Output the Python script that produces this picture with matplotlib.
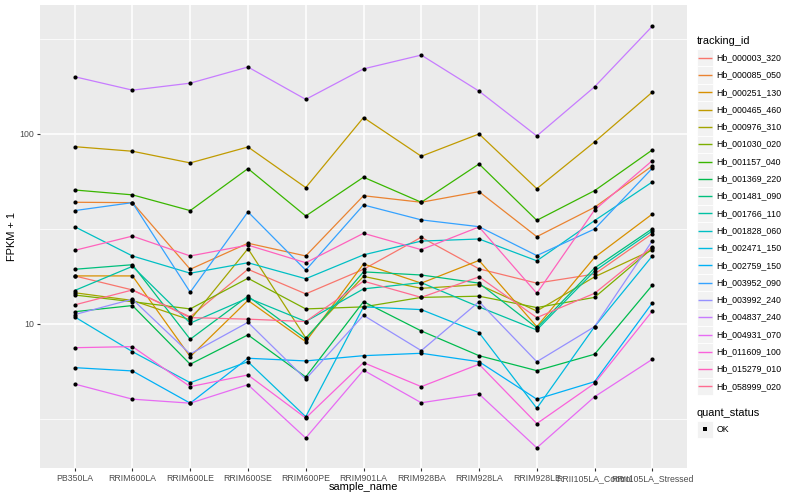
import matplotlib
matplotlib.use("Agg")
import matplotlib.pyplot as plt
from matplotlib.patches import Rectangle
import numpy as np

plt.rcParams['font.family'] = ['Liberation Sans', 'DejaVu Sans']

samples = ["PB350LA", "RRIM600LA", "RRIM600LE", "RRIM600SE", "RRIM600PE", "RRIM901LA",
           "RRIM928BA", "RRIM928LA", "RRIM928LE", "RRII105LA_Control", "RRII105LA_Stressed"]

tracking_ids = ["Hb_000003_320", "Hb_000085_050", "Hb_000251_130", "Hb_000465_460",
                "Hb_000976_310", "Hb_001030_020", "Hb_001157_040", "Hb_001369_220",
                "Hb_001481_090", "Hb_001766_110", "Hb_001828_060", "Hb_002471_150",
                "Hb_002759_150", "Hb_003952_090", "Hb_003992_240", "Hb_004837_240",
                "Hb_004931_070", "Hb_011609_100", "Hb_015279_010", "Hb_058999_020"]

# FPKM + 1 values, one list per tracking_id (order of samples)
hb_000003_320 = [17.9, 15.1, 10.9, 19.4, 14.4, 19.4, 28.6, 19.5, 16.4, 18.3, 29.9]
hb_000085_050 = [43.7, 43.5, 19.4, 26.6, 22.8, 47.3, 43.7, 49.7, 28.8, 41.1, 67.9]
hb_000251_130 = [17.9, 17.9, 6.73, 13.3, 8.07, 20.7, 16.4, 21.6, 9.68, 22.4, 37.9]
hb_000465_460 = [85.7, 81.1, 70.4, 85.4, 52.2, 122, 76.3, 100, 51.5, 90.8, 166]
hb_000976_310 = [14.6, 13.3, 10.5, 24.9, 8.44, 17.8, 15.4, 16.1, 11.7, 17.7, 24.5]
hb_001030_020 = [14.2, 13.1, 12.0, 17.4, 12.0, 12.3, 13.8, 14.0, 12.2, 13.8, 25.0]
hb_001157_040 = [50.7, 47.8, 39.5, 65.7, 37.0, 59.2, 43.7, 69.5, 35.1, 50.3, 82.4]
hb_001369_220 = [11.6, 12.5, 6.14, 8.76, 5.26, 13.1, 9.19, 6.81, 5.68, 6.93, 16.0]
hb_001481_090 = [19.4, 20.5, 8.31, 14.0, 8.34, 18.8, 18.1, 16.4, 9.53, 19.7, 31.7]
hb_001766_110 = [15.0, 20.1, 10.1, 13.7, 10.3, 15.3, 16.5, 12.3, 9.30, 19.0, 30.9]
hb_001828_060 = [32.5, 22.8, 18.5, 21.0, 17.3, 23.1, 27.3, 28.0, 21.5, 35.0, 55.9]
hb_002471_150 = [10.9, 7.15, 4.91, 6.33, 3.25, 12.3, 11.9, 9.00, 3.60, 9.68, 22.8]
hb_002759_150 = [5.89, 5.66, 3.83, 6.60, 6.39, 6.81, 7.01, 6.33, 4.02, 4.97, 12.9]
hb_003952_090 = [39.5, 43.5, 14.7, 38.9, 19.2, 42.3, 35.3, 32.5, 22.9, 31.6, 66.0]
hb_003992_240 = [11.2, 13.5, 6.95, 10.2, 5.13, 11.1, 7.24, 13.1, 6.33, 9.68, 27.4]
hb_004837_240 = [200, 170, 185, 225, 152, 220, 260, 168, 97.6, 177, 369]
hb_004931_070 = [4.83, 4.02, 3.83, 4.79, 2.51, 5.71, 3.85, 4.28, 2.23, 4.14, 6.52]
hb_011609_100 = [7.50, 7.60, 4.68, 5.39, 3.20, 6.26, 4.68, 6.14, 2.99, 4.87, 11.7]
hb_015279_010 = [24.4, 29.0, 22.8, 26.0, 21.0, 30.0, 24.6, 32.4, 14.5, 39.8, 72.4]
hb_058999_020 = [12.6, 15.1, 10.8, 10.6, 10.3, 16.8, 13.8, 17.7, 10.8, 14.5, 25.5]

series = [hb_000003_320, hb_000085_050, hb_000251_130, hb_000465_460, hb_000976_310,
          hb_001030_020, hb_001157_040, hb_001369_220, hb_001481_090, hb_001766_110,
          hb_001828_060, hb_002471_150, hb_002759_150, hb_003952_090, hb_003992_240,
          hb_004837_240, hb_004931_070, hb_011609_100, hb_015279_010, hb_058999_020]

colors = ["#F8766D", "#EA8331", "#D89000", "#C09B00", "#A3A500", "#7CAE00", "#39B600",
          "#00BB4E", "#00BF7D", "#00C1A3", "#00BFC4", "#00BAE0", "#00B0F6", "#35A2FF",
          "#9590FF", "#C77CFF", "#E76BF3", "#FA62DB", "#FF62BC", "#FF6C91"]

W, H = 800, 500
fig = plt.figure(figsize=(8, 5), dpi=100)
L, R, T, B = 40, 687, 5, 468
ax = fig.add_axes([L / W, 1 - B / H, (R - L) / W, (B - T) / H])
ax.set_facecolor('#EBEBEB')
for s in ax.spines.values():
    s.set_visible(False)

x = np.arange(len(samples))
ax.set_yscale('log')
ax.set_xlim(-0.6, len(samples) - 0.4)
ax.set_ylim(1.746, 477)
ax.set_yticks([10, 100])
ax.set_yticklabels(["10", "100"])
ax.set_yticks([10 ** 0.5, 10 ** 1.5, 10 ** 2.5], minor=True)
ax.yaxis.set_minor_formatter(matplotlib.ticker.NullFormatter())
ax.set_xticks(x)
ax.set_xticklabels(samples)
ax.set_axisbelow(True)
ax.grid(which='major', color='white', lw=1.1)
ax.grid(which='minor', axis='y', color='white', lw=0.55)
ax.tick_params(which='minor', length=0)
ax.tick_params(which='major', length=2.2, width=0.8, color='#333333',
               labelsize=6.3, labelcolor='#4D4D4D', pad=2)

for vals, col in zip(series, colors):
    ax.plot(x, vals, color=col, lw=0.9, zorder=2, solid_capstyle='butt')
for vals in series:
    ax.plot(x, vals, 'o', color='black', ms=3.0, mew=0, zorder=3)

fig.text(363.5 / W, 1 - 487 / H, "sample_name", ha='center', va='center', fontsize=7.9)
fig.text(12 / W, 1 - 236.5 / H, "FPKM + 1", ha='center', va='center', rotation=90, fontsize=7.9)

# legend drawn on an overlay in pixel coordinates
ov = fig.add_axes([0, 0, 1, 1], facecolor='none')
ov.set_xlim(0, W)
ov.set_ylim(H, 0)
ov.axis('off')

ov.text(696.5, 40.7, "tracking_id", ha='left', va='center', fontsize=7.9)
y0, dy = 57.7, 17.3
for i, (name, col) in enumerate(zip(tracking_ids, colors)):
    yc = y0 + i * dy
    ov.add_patch(Rectangle((696.5, yc - dy / 2), 16.5, dy, facecolor='#F2F2F2',
                           edgecolor='white', lw=0.6))
    ov.plot([698, 711.5], [yc, yc], color=col, lw=1.0, solid_capstyle='butt')
    ov.text(716.7, yc, name, ha='left', va='center', fontsize=6.3)

ov.text(696.5, 412.7, "quant_status", ha='left', va='center', fontsize=7.9)
ov.add_patch(Rectangle((696.5, 429.3 - dy / 2), 16.5, dy, facecolor='#F2F2F2',
                       edgecolor='white', lw=0.6))
ov.plot([704.75], [429.3], 's', color='black', ms=2.6, mew=0)
ov.text(716.7, 429.3, "OK", ha='left', va='center', fontsize=6.3)

fig.savefig("out.png", dpi=100)
